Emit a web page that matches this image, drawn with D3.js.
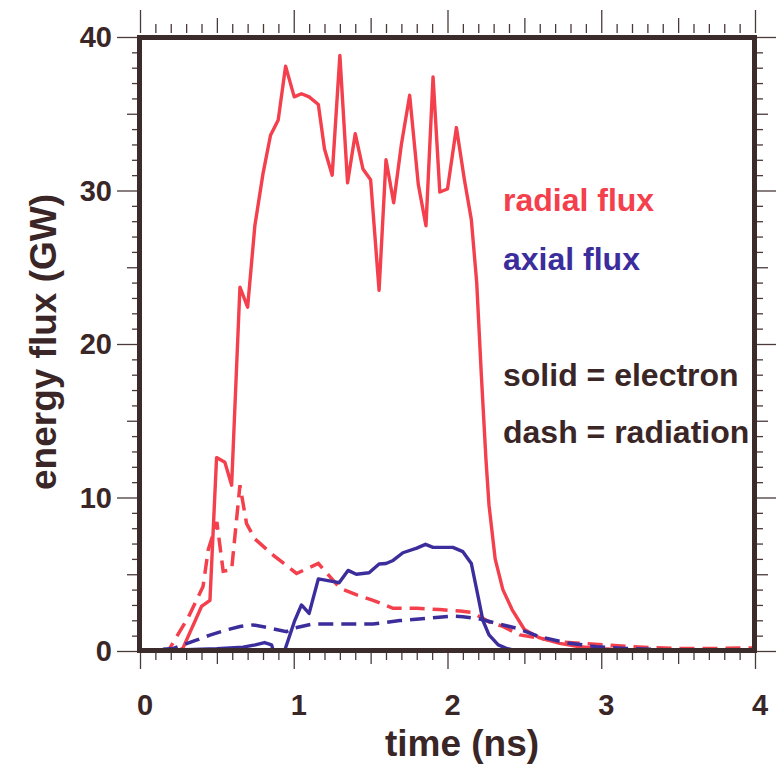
<!DOCTYPE html>
<html>
<head>
<meta charset="utf-8">
<script src="https://cdn.jsdelivr.net/npm/d3@7"></script>
<style>
  body { margin: 0; background: #fff; }
  svg { display: block; font-family: "Liberation Sans", Arial, sans-serif; font-weight: bold; }
</style>
</head>
<body>
<svg width="776" height="764"></svg>
<script>
// time (ns) and flux (GW)
var radialElecT = [0, 0.25, 0.28, 0.40, 0.455, 0.498, 0.552, 0.596, 0.65, 0.70, 0.747, 0.80, 0.849, 0.899, 0.947, 1.003, 1.05, 1.10, 1.16, 1.20, 1.25, 1.30, 1.35, 1.40, 1.45, 1.50, 1.555, 1.60, 1.65, 1.70, 1.754, 1.81, 1.86, 1.906, 1.95, 2.00, 2.058, 2.11, 2.155, 2.19, 2.22, 2.25, 2.27, 2.31, 2.36, 2.42, 2.50, 2.60, 2.73, 2.86, 3.0, 3.2, 3.4, 4.0];
var radialElecV = [0, 0, 0.2, 2.9, 3.3, 12.6, 12.3, 10.8, 23.7, 22.4, 27.7, 31.1, 33.6, 34.6, 38.1, 36.1, 36.3, 36.1, 35.6, 32.7, 31.0, 38.8, 30.5, 33.7, 31.4, 30.7, 23.5, 32.0, 29.2, 33.0, 36.2, 30.4, 27.7, 37.4, 29.9, 30.1, 34.1, 30.7, 28.1, 24, 18, 12.5, 9.5, 6, 4, 2.7, 1.4, 0.85, 0.5, 0.28, 0.15, 0.05, 0, 0];

var radialRadT = [0, 0.19, 0.195, 0.314, 0.41, 0.444, 0.50, 0.541, 0.596, 0.65, 0.693, 0.747, 0.866, 1.018, 1.16, 1.30, 1.41, 1.516, 1.646, 1.80, 1.95, 2.08, 2.165, 2.27, 2.36, 2.47, 2.6, 2.73, 2.86, 3.03, 3.2, 3.47, 3.79, 3.96, 4.0];
var radialRadV = [0, 0, 0.2, 2.2, 4.2, 6.6, 8.4, 5.2, 5.3, 10.8, 8.3, 7.3, 6.25, 5.05, 5.7, 4.1, 3.65, 3.3, 2.78, 2.78, 2.7, 2.6, 2.5, 1.9, 1.6, 1.05, 0.83, 0.6, 0.5, 0.39, 0.28, 0.17, 0.17, 0.2, 0.2];

var axialElecT = [0, 0.2, 0.5, 0.67, 0.75, 0.81, 0.856, 0.866, 0.94, 1.007, 1.05, 1.10, 1.16, 1.295, 1.353, 1.407, 1.49, 1.555, 1.60, 1.646, 1.71, 1.80, 1.857, 1.906, 2.035, 2.10, 2.155, 2.20, 2.23, 2.27, 2.33, 2.39, 2.45, 4.0];
var axialElecV = [0, 0.05, 0.15, 0.25, 0.4, 0.55, 0.4, 0.05, 0, 2.0, 3.0, 2.45, 4.7, 4.45, 5.25, 5.0, 5.1, 5.67, 5.7, 5.9, 6.4, 6.7, 6.95, 6.75, 6.75, 6.47, 5.7, 3.5, 2.0, 1.05, 0.4, 0.15, 0, 0];

var axialRadT = [0, 0.217, 0.357, 0.455, 0.563, 0.65, 0.736, 0.823, 0.953, 0.996, 1.126, 1.30, 1.516, 1.69, 1.86, 2.035, 2.10, 2.21, 2.32, 2.45, 2.6, 2.77, 2.97, 3.16, 3.36, 3.6, 4.0];
var axialRadV = [0, 0.17, 0.67, 1.04, 1.37, 1.6, 1.7, 1.54, 1.26, 1.48, 1.76, 1.76, 1.76, 1.98, 2.13, 2.28, 2.23, 2.08, 1.8, 1.48, 0.93, 0.54, 0.28, 0.17, 0.1, 0, 0];

var xTickLabels = ["0", "1", "2", "3", "4"];
var yTickLabels = ["0", "10", "20", "30", "40"];

var red = "#f3404c",
  blue = "#3b2e9c",
  ink = "#3a2626";

var svg = d3.select("svg");

var x = d3.scaleLinear().domain([0, 4]).range([140, 755]);
var y = d3.scaleLinear().domain([0, 40]).range([651, 37]);

function zip(ts, vs) {
  return ts.map(function(t, i) { return [t, vs[i]]; });
}

var line = d3.line()
  .x(function(d) { return x(d[0]); })
  .y(function(d) { return y(d[1]); });

// tick sets: major, mid, minor
var xMajor = d3.range(0, 4.01, 1),
  xMid = d3.range(0.5, 4, 1),
  xMinor = d3.range(0, 41).map(function(i) { return i / 10; })
    .filter(function(v) { return Math.round(v * 10) % 5 != 0; });
var yMajor = d3.range(0, 41, 10),
  yMid = d3.range(5, 40, 10),
  yMinor = d3.range(0, 41).filter(function(v) { return v % 5 != 0; });

function ticks(axisFn, scale, vals, size, tx, ty) {
  var a = axisFn(scale).tickValues(vals).tickSize(size).tickFormat("");
  var g = svg.append("g")
    .attr("transform", "translate(" + tx + "," + ty + ")")
    .call(a);
  g.select(".domain").remove();
  g.selectAll("line").attr("stroke", "#4a3a3a").attr("stroke-width", 1.3);
}

// top (upward, sits a little above the frame), bottom, left, right
ticks(d3.axisTop, x, xMajor, 23, 0, 33);
ticks(d3.axisTop, x, xMid, 15, 0, 33);
ticks(d3.axisTop, x, xMinor, 9, 0, 33);
ticks(d3.axisBottom, x, xMajor, 18, 0, 651);
ticks(d3.axisBottom, x, xMid, 13, 0, 651);
ticks(d3.axisBottom, x, xMinor, 9, 0, 651);
ticks(d3.axisLeft, y, yMajor, 23, 140, 0);
ticks(d3.axisLeft, y, yMid, 13, 140, 0);
ticks(d3.axisLeft, y, yMinor, 8, 140, 0);
ticks(d3.axisRight, y, yMajor, 23, 755, 0);
ticks(d3.axisRight, y, yMid, 13, 755, 0);
ticks(d3.axisRight, y, yMinor, 8, 755, 0);

// data lines
svg.append("path").datum(zip(radialElecT, radialElecV))
  .attr("d", line).attr("fill", "none")
  .attr("stroke", red).attr("stroke-width", 3.4).attr("stroke-linejoin", "round");
svg.append("path").datum(zip(radialRadT, radialRadV))
  .attr("d", line).attr("fill", "none")
  .attr("stroke", red).attr("stroke-width", 3.5).attr("stroke-dasharray", "15,8");
svg.append("path").datum(zip(axialElecT, axialElecV))
  .attr("d", line).attr("fill", "none")
  .attr("stroke", blue).attr("stroke-width", 3.4).attr("stroke-linejoin", "round");
svg.append("path").datum(zip(axialRadT, axialRadV))
  .attr("d", line).attr("fill", "none")
  .attr("stroke", blue).attr("stroke-width", 3.5).attr("stroke-dasharray", "15,8");

// heavy frame
svg.append("rect")
  .attr("x", 139.5).attr("y", 37.5)
  .attr("width", 615).attr("height", 613)
  .attr("fill", "none").attr("stroke", "#3b2b2b").attr("stroke-width", 5);

// tick labels
svg.selectAll(".xl").data(xTickLabels).enter().append("text")
  .attr("x", function(d) { return x(+d) + 5; })
  .attr("y", 715)
  .attr("text-anchor", "middle")
  .attr("font-size", 29).attr("fill", ink)
  .text(function(d) { return d; });

svg.selectAll(".yl").data(yTickLabels).enter().append("text")
  .attr("x", 112)
  .attr("y", function(d) { return y(+d) + 10; })
  .attr("text-anchor", "end")
  .attr("font-size", 29).attr("fill", ink)
  .text(function(d) { return d; });

// axis titles
svg.append("text")
  .attr("x", 462).attr("y", 756)
  .attr("text-anchor", "middle")
  .attr("font-size", 37).attr("fill", ink)
  .text("time (ns)");

svg.append("text")
  .attr("transform", "translate(56,342) rotate(-90)")
  .attr("text-anchor", "middle")
  .attr("font-size", 37).attr("fill", ink)
  .text("energy flux (GW)");

// annotations
svg.append("text").attr("x", 503).attr("y", 211)
  .attr("font-size", 32).attr("fill", red).text("radial flux");
svg.append("text").attr("x", 503).attr("y", 270)
  .attr("font-size", 32).attr("fill", blue).text("axial flux");
svg.append("text").attr("x", 503).attr("y", 386)
  .attr("font-size", 32).attr("fill", ink).text("solid = electron");
svg.append("text").attr("x", 503).attr("y", 443)
  .attr("font-size", 32).attr("fill", ink).text("dash = radiation");
</script>
</body>
</html>
